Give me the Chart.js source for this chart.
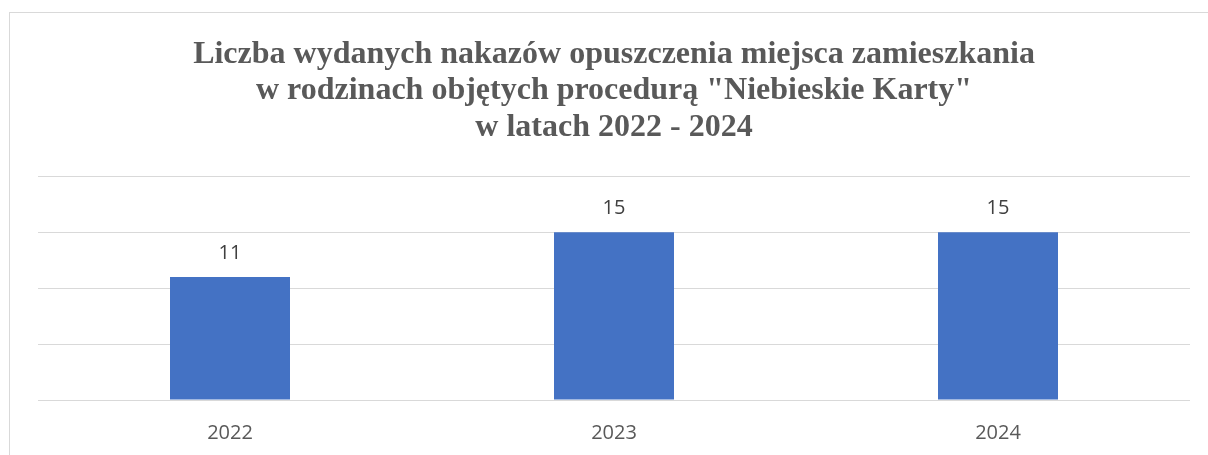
<!DOCTYPE html>
<html>
<head>
<meta charset="utf-8">
<script src="https://cdn.jsdelivr.net/npm/chart.js@4/dist/chart.umd.min.js"></script>
<style>
  html, body { margin: 0; padding: 0; background: #ffffff; overflow: hidden; width: 1208px; height: 455px; }
  #frame { position: absolute; left: 9px; top: 12px; width: 1400px; height: 600px; border: 1px solid #d9d9d9; box-sizing: border-box; }
  #wrap { position: absolute; left: 0; top: 0; width: 1208px; height: 455px; overflow: hidden; }
</style>
</head>
<body>
<div id="frame"></div>
<div id="wrap"><canvas id="c" width="1208" height="466"></canvas></div>
<script>
const titleLines = [
  'Liczba wydanych nakazów opuszczenia miejsca zamieszkania',
  'w rodzinach objętych procedurą "Niebieskie Karty"',
  'w latach 2022 - 2024'
];
const categories = ['2022', '2023', '2024'];
const values = [11, 15, 15];
const yTicks = [0, 5, 10, 15, 20];

const valueLabels = {
  id: 'valueLabels',
  afterDatasetsDraw(chart) {
    const ctx = chart.ctx;
    const meta = chart.getDatasetMeta(0);
    ctx.save();
    ctx.font = '20px "Open Sans"';
    ctx.fillStyle = '#404040';
    ctx.textAlign = 'center';
    ctx.textBaseline = 'alphabetic';
    meta.data.forEach((bar, i) => {
      ctx.fillText(String(values[i]), bar.x, bar.y - 18);
    });
    ctx.restore();
  }
};

new Chart(document.getElementById('c'), {
  type: 'bar',
  data: {
    labels: categories,
    datasets: [{
      data: values,
      backgroundColor: '#4472c4',
      borderWidth: 0,
      categoryPercentage: 1,
      barPercentage: 0.3125
    }]
  },
  options: {
    responsive: false,
    animation: false,
    layout: { padding: { left: 38, right: 18, top: 36, bottom: 0 } },
    plugins: {
      legend: { display: false },
      tooltip: { enabled: false },
      title: {
        display: true,
        text: titleLines,
        color: '#595959',
        font: { family: '"Liberation Serif"', size: 32, weight: 'bold', lineHeight: 1.15 },
        padding: { top: 0, bottom: 30 }
      }
    },
    scales: {
      x: {
        grid: { display: false, drawTicks: false },
        border: { display: false },
        ticks: { color: '#595959', font: { family: '"Open Sans"', size: 20 }, padding: 21 }
      },
      y: {
        min: 0,
        max: 20,
        afterBuildTicks(axis) { axis.ticks = yTicks.map(v => ({ value: v })); },
        grid: { color: '#d9d9d9', lineWidth: 1, drawTicks: false },
        border: { display: false },
        ticks: { display: false }
      }
    }
  },
  plugins: [valueLabels]
});
</script>
</body>
</html>
